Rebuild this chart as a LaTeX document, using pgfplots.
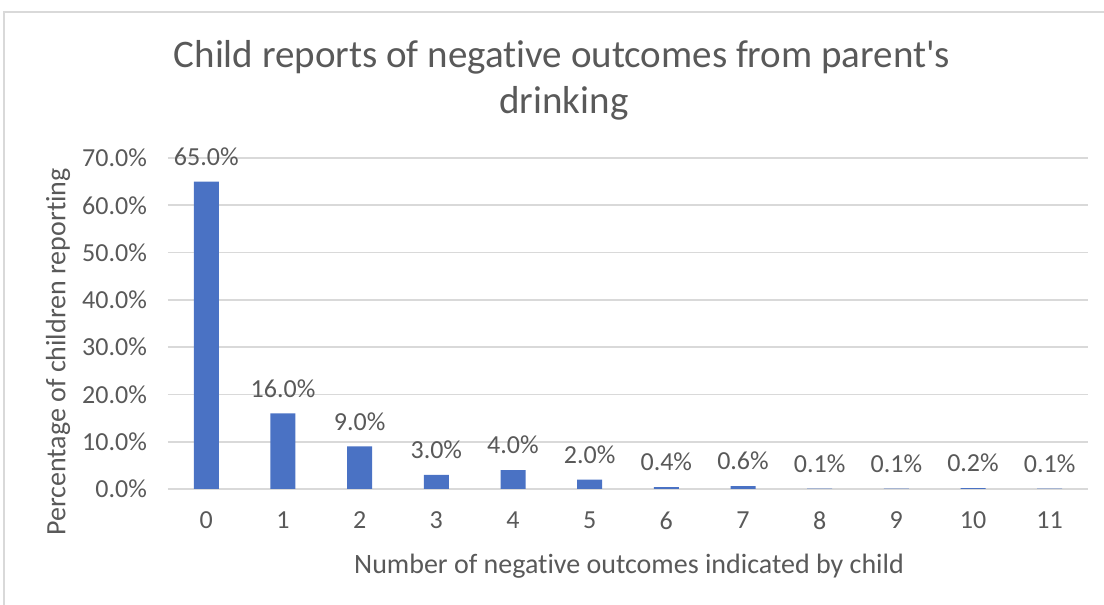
\documentclass[border=0pt]{standalone}
\usepackage{fontspec}
\setmainfont{Carlito}[Ligatures={TeXOff,CommonOff}]
\usepackage{pgfplots}
\pgfplotsset{compat=1.18}

\definecolor{barblue}{HTML}{4A72C4}
\definecolor{txtgray}{HTML}{595959}
\definecolor{gridgray}{HTML}{D9D9D9}

\begin{document}
\begin{tikzpicture}
\useasboundingbox (-84pt,-58pt) rectangle (468pt,244.5pt);
% outer chart frame
\draw[gridgray, line width=0.8pt] (-82pt,-70pt) -- (-82pt,238.5pt) -- (480pt,238.5pt);
\begin{axis}[
    at={(0,0)}, anchor=south west,
    scale only axis,
    width=460pt, height=165.5pt,
    ybar, bar width=12.5pt,
    xmin=-0.5, xmax=11.5,
    ymin=0, ymax=70,
    xtick=data,
    ytick={0,10,...,70},
    yticklabel={\pgfmathprintnumber[fixed,fixed zerofill,precision=1]{\tick}\%},
    /pgf/number format/assume math mode=true,
    axis line style={draw=none},
    major tick length=0pt,
    ymajorgrids,
    grid style={gridgray, line width=0.8pt},
    tick label style={font=\fontsize{13}{15}\selectfont, text=txtgray},
    xticklabel style={yshift=-8pt},
    yticklabel style={xshift=-7pt},
    nodes near coords={\pgfmathprintnumber[fixed,fixed zerofill,precision=1]{\pgfplotspointmeta}\%},
    nodes near coords style={font=\fontsize{13}{15}\selectfont, text=txtgray, yshift=4.5pt},
    clip=false,
]
\addplot[fill=barblue, draw=none] coordinates {
    (0,65.0) (1,16.0) (2,9.0) (3,3.0) (4,4.0) (5,2.0)
    (6,0.4) (7,0.6) (8,0.1) (9,0.1) (10,0.2) (11,0.1)
};
\end{axis}
\node[text=txtgray, font=\fontsize{19.5}{23}\selectfont] at (197pt,216pt) {Child reports of negative outcomes from parent's};
\node[text=txtgray, font=\fontsize{19.5}{23}\selectfont] at (198pt,193pt) {drinking};
\node[text=txtgray, font=\fontsize{14}{16}\selectfont, rotate=90] at (-55pt,68.5pt) {Percentage of children reporting};
\node[text=txtgray, font=\fontsize{14}{16}\selectfont] at (230.5pt,-38.5pt) {Number of negative outcomes indicated by child};
\end{tikzpicture}
\end{document}
